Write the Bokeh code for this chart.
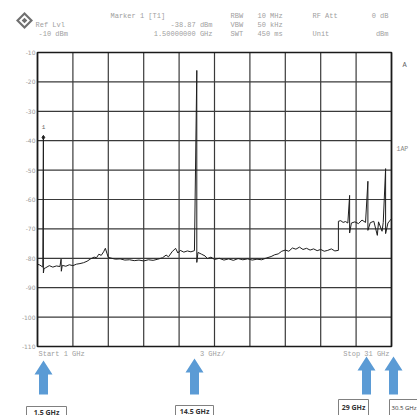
from bokeh.plotting import figure
from bokeh.models import Range1d
from bokeh.core.properties import value
from bokeh.embed import file_html
from bokeh.resources import INLINE

# ---------------- data ----------------
freq_ghz = [1.0, 1.2, 1.45, 1.5, 1.5, 1.55, 1.7, 2.0, 2.3, 2.6, 2.9, 3.0, 3.02, 3.1,
            3.4, 3.7, 4.0, 4.3, 4.6, 4.9, 5.2, 5.5, 5.8, 6.0, 6.2, 6.4, 6.6, 6.75,
            6.9, 7.0, 7.3, 7.6, 8.0, 8.4, 8.8, 9.2, 9.6, 10.0, 10.4, 10.8, 11.2,
            11.6, 11.9, 12.1, 12.4, 12.7, 12.9, 13.1, 13.4, 13.7, 14.0, 14.3, 14.5,
            14.5, 14.6, 14.9, 15.2, 15.4, 15.7, 16.0, 16.4, 16.8, 17.2, 17.6, 18.0,
            18.4, 18.8, 19.2, 19.6, 20.0, 20.4, 20.8, 21.1, 21.4, 21.7, 22.0, 22.3,
            22.6, 22.9, 23.2, 23.5, 23.8, 24.1, 24.4, 24.7, 25.0, 25.3, 25.6, 25.9,
            26.2, 26.5, 26.5, 26.7, 26.9, 27.1, 27.3, 27.45, 27.45, 27.6, 27.9, 28.2,
            28.5, 28.8, 29.0, 29.0, 29.2, 29.5, 29.8, 29.9, 30.2, 30.3, 30.5, 30.5,
            30.7, 31.0]
level_dbm = [-82.0, -82.3, -83.0, -38.87, -85.0, -83.5, -83.2, -82.5, -83.0, -82.6, -82.8,
             -80.3, -84.4, -82.4, -82.7, -82.2, -82.5, -82.0, -81.8, -81.5, -81.0, -80.2,
             -79.6, -79.8, -78.6, -79.0, -77.8, -76.6, -78.5, -79.7, -80.0, -80.3, -80.2,
             -80.6, -80.5, -80.8, -80.6, -80.9, -80.5, -80.7, -80.3, -79.8, -78.9, -79.5,
             -77.8, -76.6, -78.2, -77.3, -77.9, -77.5, -77.8, -77.4, -16.1, -81.4, -78.0,
             -78.6, -79.2, -80.1, -79.6, -80.4, -80.0, -80.6, -80.2, -80.7, -80.1, -80.5,
             -80.2, -80.6, -80.3, -80.5, -79.9, -79.4, -78.8, -78.5, -77.6, -77.2, -77.6,
             -76.5, -76.9, -76.2, -77.0, -76.6, -77.2, -76.8, -77.4, -77.0, -77.6, -77.3,
             -76.8, -77.5, -77.3, -67.4, -67.2, -67.8, -67.5, -68.0, -58.6, -71.4, -68.0,
             -67.6, -68.2, -67.0, -67.8, -53.8, -70.5, -67.9, -67.4, -72.2, -67.6, -70.8,
             -67.8, -49.5, -71.6, -68.0, -66.5]

marker_freq = [1.5]
marker_level = [-38.87]

y_ticks = [-10, -20, -30, -40, -50, -60, -70, -80, -90, -100, -110]
x_grid = [1, 4, 7, 10, 13, 16, 19, 22, 25, 28, 31]
x_labels = ["Start 1 GHz", "3 GHz/", "Stop 31 GHz"]

arrow_labels = ["1.5 GHz", "14.5 GHz", "29 GHz", "30.5 GHz"]

# ---------------- layout helpers (picture pixels -> data) ----------------
W, H = 417, 415
FL, FT, FW, FH = 37.0, 52.0, 354.0, 294.0
X0, X1 = 1.0, 31.0
Y0, Y1 = -110.0, -10.0


def dx(px):
    return X0 + (px - FL) / FW * (X1 - X0)


def dy(py):
    return Y1 - (py - FT) / FH * (Y1 - Y0)


p = figure(width=W, height=H, x_range=Range1d(dx(0), dx(W)), y_range=Range1d(dy(H), dy(0)),
           output_backend="svg", toolbar_location=None, title=None, min_border=0)
p.background_fill_color = "white"
p.border_fill_color = "white"
p.outline_line_color = None
p.axis.visible = False
p.grid.visible = False

# grid (10 x 10 divisions) and frame
p.segment(x0=x_grid, y0=[Y0] * len(x_grid), x1=x_grid, y1=[Y1] * len(x_grid),
          line_color="#3a3a3a", line_width=1.2)
p.segment(x0=[X0] * len(y_ticks), y0=y_ticks, x1=[X1] * len(y_ticks), y1=y_ticks,
          line_color="#3a3a3a", line_width=1.2)
p.quad(left=[X0], right=[X1], bottom=[Y0], top=[Y1], fill_color=None,
       line_color="#1a1a1a", line_width=1.7)

# y tick labels
p.text(x=[dx(35)] * len(y_ticks), y=y_ticks, text=[str(t) for t in y_ticks],
       text_align="right", text_baseline="middle", text_font_size="6px",
       text_color="#9a9a9a", text_font=value("DejaVu Sans"))

# trace and marker
p.line(freq_ghz, level_dbm, line_color="#1e1e1e", line_width=1)
p.scatter(marker_freq, marker_level, marker="diamond", size=4, color="#1e1e1e")


def txt(s, px, py, align="left", size="7px", color="#a0a0a0", font="Liberation Mono",
        style="normal"):
    p.text(x=[dx(px)], y=[dy(py)], text=[s], text_align=align, text_baseline="middle",
           text_font_size=size, text_color=color, text_font=value(font),
           text_font_style=style)


txt("1", 43, 126, align="center", size="6px", color="#666666")

# header
txt("Ref Lvl", 35, 24)
txt("-10 dBm", 38, 33)
txt("Marker 1 [T1]", 110, 15)
txt("-38.87 dBm", 212, 24, align="right")
txt("1.50000000 GHz", 212, 33, align="right")
txt("RBW", 230, 15)
txt("VBW", 230, 24)
txt("SWT", 230, 33)
txt("10 MHz", 257, 15)
txt("50 kHz", 257, 24)
txt("450 ms", 257, 33)
txt("RF Att", 312, 15)
txt("Unit", 312, 33)
txt("0 dB", 388, 15, align="right")
txt("dBm", 388, 33, align="right")

# right side
txt("A", 402, 64, size="7px", color="#666666")
txt("1AP", 396, 149, size="6.5px", color="#888888")

# bottom frequency labels
txt(x_labels[0], 38, 353)
txt(x_labels[1], 212, 353, align="center")
txt(x_labels[2], 389, 353, align="right")

# logo
lcx, lcy = 24, 20
for half, col in ((8.5, "#707070"), (5.5, "white"), (2.8, "#707070")):
    p.patch(x=[dx(lcx - half), dx(lcx), dx(lcx + half), dx(lcx)],
            y=[dy(lcy), dy(lcy - half), dy(lcy), dy(lcy + half)],
            fill_color=col, line_color=None)

# arrows and boxes
arrow_px = [43, 194, 366, 393]
arrow_top = [360, 358, 356, 356]
box_geom = [(26, 66, 406), (175, 213, 405), (338, 368, 399), (389, 430, 399)]
for ax, at, (bl, br, bt), lab in zip(arrow_px, arrow_top, box_geom, arrow_labels):
    hb = at + 14
    bot = 394
    xs = [ax, ax + 9, ax + 4.5, ax + 4.5, ax - 4.5, ax - 4.5, ax - 9]
    ys = [at, hb, hb, bot, bot, hb, hb]
    p.patch(x=[dx(v) for v in xs], y=[dy(v) for v in ys],
            fill_color="#5b9bd5", line_color=None)
    p.quad(left=[dx(bl)], right=[dx(br)], top=[dy(bt)], bottom=[dy(425)],
           fill_color="white", line_color="#808080", line_width=1)
    if br > W:
        txt(lab, 416, bt + 8, align="right", size="6px", color="#333333", font="Open Sans")
    else:
        txt(lab, (bl + br) / 2, bt + 5.5 if bt > 402 else bt + 8, align="center",
            size="7px", color="#333333", font="Open Sans", style="bold")

open("out.html", "w").write(file_html(p, INLINE))
